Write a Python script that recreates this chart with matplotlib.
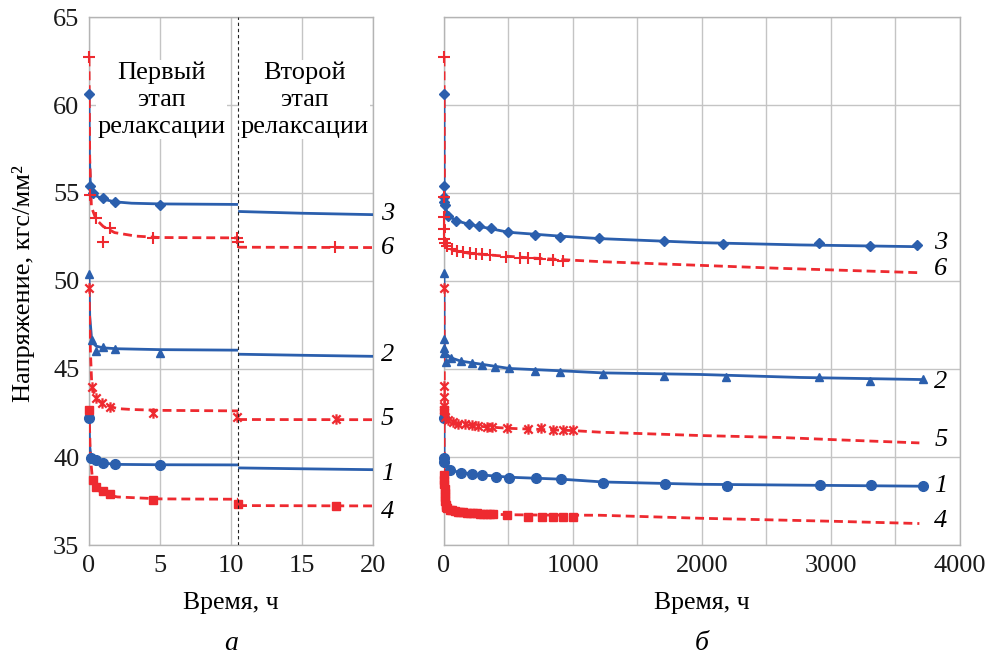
import matplotlib
matplotlib.use("Agg")
import matplotlib.pyplot as plt
from matplotlib.path import Path

plt.rcParams["font.family"] = ["Liberation Serif", "DejaVu Serif"]

BLUE = "#2b5fad"
RED = "#ee2a30"
GRID = "#c4c4c4"

# ---------- panel a: first 20 h (two relaxation stages) ----------
# markers (measured points)
a1_t = [0, 0.15, 0.5, 1.0, 1.8, 5.0]
a1_v = [42.2, 39.97, 39.82, 39.67, 39.59, 39.55]
a2_t = [0, 0.23, 0.5, 1.0, 1.8, 5.0]
a2_v = [50.4, 46.65, 46.03, 46.23, 46.11, 45.89]
a3_t = [0, 0.1, 0.25, 1.0, 1.8, 5.0]
a3_v = [60.6, 55.4, 55.0, 54.72, 54.5, 54.3]
a4_t = [0, 0.25, 0.5, 1.0, 1.5, 4.5, 10.5, 17.4]
a4_v = [42.66, 38.68, 38.3, 38.05, 37.92, 37.54, 37.35, 37.2]
a5_t = [0, 0.2, 0.5, 0.9, 1.5, 4.5, 10.4, 17.4]
a5_v = [49.6, 44.0, 43.35, 43.05, 42.85, 42.5, 42.3, 42.15]
a6_t = [0, 0.1, 0.5, 1.0, 1.5, 4.5, 10.4, 10.5, 17.3]
a6_v = [62.7, 54.9, 53.6, 52.2, 53.0, 52.45, 52.45, 52.2, 51.95]

# fitted curves, stage 1 (0..10.5 h) and stage 2 (10.5..20 h)
a1_fit1_t = [0, 0.05, 0.15, 0.5, 1.0, 2.0, 5.0, 10.5]
a1_fit1_v = [42.2, 40.6, 39.95, 39.75, 39.65, 39.58, 39.56, 39.55]
a1_fit2_t = [10.5, 15, 20]
a1_fit2_v = [39.38, 39.33, 39.28]
a2_fit1_t = [0, 0.05, 0.2, 0.5, 1.0, 2.0, 5.0, 10.5]
a2_fit1_v = [50.4, 48.0, 46.55, 46.3, 46.2, 46.15, 46.1, 46.07]
a2_fit2_t = [10.5, 15, 20]
a2_fit2_v = [45.84, 45.78, 45.72]
a3_fit1_t = [0, 0.03, 0.1, 0.3, 0.6, 1.0, 1.8, 3.0, 5.0, 10.5]
a3_fit1_v = [60.6, 57.0, 55.4, 55.0, 54.8, 54.65, 54.5, 54.42, 54.38, 54.35]
a3_fit2_t = [10.5, 15, 20]
a3_fit2_v = [53.95, 53.85, 53.77]
a4_fit1_t = [0, 0.1, 0.25, 0.5, 1.0, 2.0, 5.0, 10.5]
a4_fit1_v = [42.66, 40.0, 38.7, 38.2, 37.9, 37.73, 37.62, 37.6]
a4_fit2_t = [10.5, 20]
a4_fit2_v = [37.24, 37.22]
a5_fit1_t = [0, 0.1, 0.2, 0.5, 1.0, 2.0, 3.0, 5.0, 10.5]
a5_fit1_v = [49.6, 46.0, 44.0, 43.3, 43.0, 42.75, 42.7, 42.65, 42.62]
a5_fit2_t = [10.5, 20]
a5_fit2_v = [42.13, 42.12]
a6_fit1_t = [0, 0.05, 0.17, 0.5, 1.0, 1.8, 3.3, 5.0, 10.5]
a6_fit1_v = [62.7, 57.0, 54.2, 53.5, 53.1, 52.75, 52.55, 52.47, 52.45]
a6_fit2_t = [10.5, 20]
a6_fit2_v = [51.92, 51.9]

# ---------- panel b: full test, up to ~3700 h ----------
b1_t = [0, 0, 2, 47, 129, 217, 295, 403, 507, 711, 909, 1235, 1713, 2191, 2915, 3307, 3711]
b1_v = [42.2, 39.97, 39.72, 39.25, 39.1, 39.02, 38.96, 38.87, 38.83, 38.78, 38.74,
        38.55, 38.49, 38.36, 38.4, 38.4, 38.36]
b2_t = [0, 0, 0, 3, 15, 52, 129, 214, 295, 398, 507, 705, 899, 1230, 1705, 2186,
        2910, 3302, 3711]
b2_v = [50.47, 46.7, 46.17, 45.92, 45.4, 45.64, 45.45, 45.32, 45.22, 45.13, 45.07,
        44.9, 44.84, 44.73, 44.6, 44.52, 44.52, 44.33, 44.43]
b3_t = [0, 0, 0, 0, 5, 33, 93, 194, 269, 364, 499, 705, 899, 1204, 1705, 2165,
        2910, 3302, 3669]
b3_v = [60.6, 55.4, 54.8, 54.5, 54.3, 53.7, 53.43, 53.24, 53.1, 53.0, 52.79, 52.62,
        52.52, 52.47, 52.29, 52.1, 52.14, 52.0, 52.05]
b4_t = [0, 1, 2, 3, 4, 6, 8, 10, 13, 16, 20, 47, 65, 86, 105, 125, 150, 176, 200,
        228, 255, 279, 305, 331, 355, 382, 491, 654, 757, 848, 920, 1003]
b4_v = [42.66, 38.96, 38.7, 38.45, 38.2, 37.95, 37.7, 37.5, 37.3, 37.16, 37.08,
        37.01, 36.97, 36.94, 36.9, 36.88, 36.86, 36.84, 36.83, 36.82, 36.8, 36.78,
        36.78, 36.78, 36.76, 36.74, 36.69, 36.59, 36.6, 36.59, 36.6, 36.6]
b5_t = [0, 0, 1, 2, 3, 10, 33, 72, 110, 163, 214, 266, 331, 370, 491, 654, 749,
        848, 920, 997]
b5_v = [49.58, 44.03, 43.4, 42.9, 42.66, 42.28, 42.09, 42.0, 41.9, 41.85, 41.81,
        41.77, 41.71, 41.71, 41.62, 41.6, 41.62, 41.56, 41.56, 41.52]
b6_t = [0, 0, 1, 2, 3, 5, 26, 60, 98, 150, 202, 248, 292, 357, 481, 589, 654, 744,
        842, 920]
b6_v = [62.72, 54.8, 53.62, 52.94, 52.37, 52.18, 51.99, 51.8, 51.72, 51.63, 51.57,
        51.53, 51.52, 51.48, 51.38, 51.33, 51.29, 51.24, 51.2, 51.16]

b1_fit_t = [0, 1, 5, 47, 129, 295, 507, 909, 1235, 1984, 2760, 3711]
b1_fit_v = [42.2, 39.9, 39.6, 39.25, 39.12, 38.98, 38.85, 38.74, 38.58, 38.45, 38.4, 38.34]
b2_fit_t = [0, 1, 5, 52, 129, 507, 899, 1230, 1984, 2760, 3711]
b2_fit_v = [50.47, 46.4, 45.95, 45.64, 45.45, 45.03, 44.9, 44.78, 44.69, 44.52, 44.4]
b3_fit_t = [0, 1, 5, 33, 93, 194, 499, 899, 1204, 1984, 2760, 3669]
b3_fit_v = [60.6, 55.2, 54.3, 53.72, 53.43, 53.22, 52.77, 52.55, 52.41, 52.18, 52.05, 51.95]
b4_fit_t = [0, 2, 5, 10, 16, 47, 125, 279, 491, 800, 1209, 1984, 3005, 3685]
b4_fit_v = [42.66, 39.0, 38.0, 37.5, 37.16, 37.0, 36.88, 36.78, 36.72, 36.7, 36.69,
            36.52, 36.35, 36.22]
b5_fit_t = [0, 3, 10, 30, 100, 300, 500, 800, 1000, 1209, 1984, 2605, 3005, 3685]
b5_fit_v = [49.6, 43.0, 42.3, 42.1, 41.9, 41.73, 41.63, 41.55, 41.5, 41.41, 41.22,
            41.11, 40.99, 40.8]
b6_fit_t = [0, 5, 20, 50, 100, 200, 400, 700, 1000, 1209, 1984, 2605, 3005, 3690]
b6_fit_v = [62.7, 52.2, 52.0, 51.8, 51.7, 51.57, 51.45, 51.3, 51.18, 51.1, 50.89,
            50.72, 50.63, 50.47]

curve_names = ["1", "2", "3", "4", "5", "6"]
a_label_v = [39.06, 45.79, 53.83, 36.87, 42.18, 51.85]
b_label_v = [38.35, 44.27, 52.18, 36.35, 40.95, 50.67]

stage_texts = ["Первый\nэтап\nрелаксации", "Второй\nэтап\nрелаксации"]
stage_x = [5.1, 15.2]
stage_boundary = 10.5

# asterisk-like marker (x with a vertical bar), as Excel draws it
STAR = Path([(-1, -1), (1, 1), (-1, 1), (1, -1), (0, -1.25), (0, 1.25)],
            [Path.MOVETO, Path.LINETO] * 3)

blue_line = dict(color=BLUE, lw=2.0, solid_capstyle="butt", zorder=3)
red_line = dict(color=RED, lw=2.0, ls=(0, (3.2, 1.8)), zorder=3)
mk = {
    1: dict(marker="o", ms=7, color=BLUE),
    2: dict(marker="^", ms=6, color=BLUE),
    3: dict(marker="D", ms=5.5, color=BLUE),
    4: dict(marker="s", ms=6, color=RED),
    5: dict(marker=STAR, ms=7.5, color=RED, mew=1.6, mfc="none"),
    6: dict(marker="+", ms=9, color=RED, mew=1.5),
}


def style(ax, xlim, xmajor, xgrid):
    ax.set_ylim(35, 65)
    ax.set_xlim(*xlim)
    ax.set_yticks(range(35, 66, 5))
    ax.set_xticks(xgrid, minor=True)
    ax.set_xticks(xmajor)
    ax.grid(True, which="both", axis="x", color=GRID, lw=1.0, zorder=0)
    ax.grid(True, which="major", axis="y", color=GRID, lw=1.0, zorder=0)
    ax.tick_params(which="both", length=0, labelsize=19, pad=7, colors="#1a1a1a")
    for s in ax.spines.values():
        s.set_color("#b4b4b4")
        s.set_linewidth(1.0)
    ax.set_axisbelow(True)


fig = plt.figure(figsize=(9.87, 6.57), dpi=100)
axa = fig.add_axes([89 / 987, 1 - 545 / 657, 284 / 987, 528 / 657])
axb = fig.add_axes([444 / 987, 1 - 545 / 657, 516 / 987, 528 / 657])

# ---- panel a ----
style(axa, (0, 20), range(0, 21, 5), [])
fits_a = [
    (a1_fit1_t, a1_fit1_v, a1_fit2_t, a1_fit2_v, blue_line),
    (a2_fit1_t, a2_fit1_v, a2_fit2_t, a2_fit2_v, blue_line),
    (a3_fit1_t, a3_fit1_v, a3_fit2_t, a3_fit2_v, blue_line),
    (a4_fit1_t, a4_fit1_v, a4_fit2_t, a4_fit2_v, red_line),
    (a5_fit1_t, a5_fit1_v, a5_fit2_t, a5_fit2_v, red_line),
    (a6_fit1_t, a6_fit1_v, a6_fit2_t, a6_fit2_v, red_line),
]
for t1, v1, t2, v2, st in fits_a:
    axa.plot(t1, v1, **st)
    axa.plot(t2, v2, **st)
pts_a = [(a1_t, a1_v), (a2_t, a2_v), (a3_t, a3_v), (a4_t, a4_v), (a5_t, a5_v), (a6_t, a6_v)]
for i, (t, v) in enumerate(pts_a, start=1):
    axa.plot(t, v, ls="none", zorder=4, clip_on=False, **mk[i])

axa.axvline(stage_boundary, color="#222222", lw=0.8, ls=(0, (3, 2.5)), zorder=5)
for x, s in zip(stage_x, stage_texts):
    axa.text(x, 60.3, s, ha="center", va="center", fontsize=19, linespacing=1.3,
             zorder=4, bbox=dict(facecolor="white", edgecolor="none", pad=1.0))

for name, y in zip(curve_names, a_label_v):
    axa.text(20.55, y, name, fontsize=19, style="italic", ha="left", va="center",
             clip_on=False)

# ---- panel b ----
style(axb, (0, 4000), range(0, 4001, 1000), range(500, 4000, 1000))
axb.set_yticklabels([])
fits_b = [(b1_fit_t, b1_fit_v, blue_line), (b2_fit_t, b2_fit_v, blue_line),
          (b3_fit_t, b3_fit_v, blue_line), (b4_fit_t, b4_fit_v, red_line),
          (b5_fit_t, b5_fit_v, red_line), (b6_fit_t, b6_fit_v, red_line)]
for t, v, st in fits_b:
    axb.plot(t, v, **st)
pts_b = [(b1_t, b1_v), (b2_t, b2_v), (b3_t, b3_v), (b4_t, b4_v), (b5_t, b5_v), (b6_t, b6_v)]
for i, (t, v) in enumerate(pts_b, start=1):
    axb.plot(t, v, ls="none", zorder=4, clip_on=False, **mk[i])

for name, y in zip(curve_names, b_label_v):
    axb.text(3800, y, name, fontsize=19, style="italic", ha="left", va="center",
             clip_on=False)

# ---- labels ----
fig.text(24 / 987, 1 - 284 / 657, "Напряжение, кгс/мм²", rotation=90,
         ha="center", va="center", fontsize=19)
fig.text(231 / 987, 1 - 603 / 657, "Время, ч", ha="center", va="center", fontsize=18.5)
fig.text(702 / 987, 1 - 603 / 657, "Время, ч", ha="center", va="center", fontsize=18.5)
fig.text(231 / 987, 1 - 643 / 657, "а", ha="center", va="center", fontsize=20,
         style="italic")
fig.text(702 / 987, 1 - 643 / 657, "б", ha="center", va="center", fontsize=20,
         style="italic")

fig.savefig("out.png", dpi=100, facecolor="white")
